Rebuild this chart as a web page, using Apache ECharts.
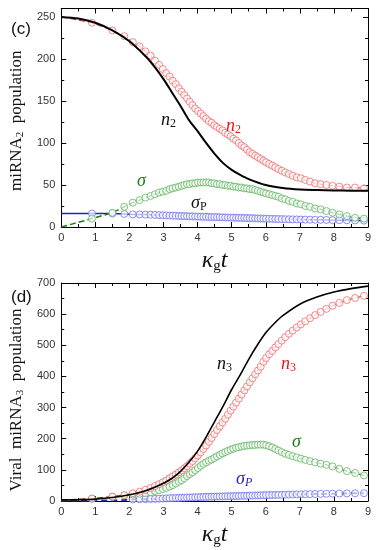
<!DOCTYPE html>
<html><head><meta charset="utf-8">
<script src="https://cdn.jsdelivr.net/npm/echarts@6/dist/echarts.min.js"></script>
<style>html,body{margin:0;padding:0;background:#fff}#c{width:379px;height:550px}</style>
</head><body><div id="c"></div>
<script>
// marker times (shared by all simulation series)
const simT = [0.9,1.5,1.85,2.1,2.3,2.47,2.62,2.75,2.87,2.98,3.08,3.18,3.27,3.36,3.45,3.53,3.61,3.69,3.77,3.85,3.93,4.01,4.09,4.17,4.25,4.33,4.41,4.49,4.57,4.65,4.73,4.81,4.89,4.97,5.05,5.13,5.21,5.29,5.37,5.45,5.53,5.61,5.69,5.77,5.85,5.93,6.01,6.1,6.19,6.28,6.37,6.47,6.57,6.68,6.79,6.91,7.03,7.16,7.3,7.45,7.61,7.78,7.96,8.16,8.38,8.62,8.88];
// panel (c)
const n2Sim = [243,234,227,220,215,209,204,198,193,188,183,179,174,170,165,161,157,153,149,145,141,138,135,132,129,126,124,121,119,117,115,112,110,108,105,103,100,97,95,92,89,87,85,83,81,79,77,75,73,71,69,67,65,63,61,59,58,56,54,52,51,50,49,48,47,47,46];
const sigma2Sim = [10,17,24,29,32,35,37,39,41,42,43,45,46,47,48,49,50,51,51,52,52,53,53,53,53,53,52,52,51,51,50,50,49,49,48,48,47,47,46,46,45,45,44,43,42,41,40,39,38,37,36,34,33,31,30,28,27,25,24,22,21,19,17,15,13,11,10];
const sigmaP2Sim = [16,16,15.5,15,15,14.8,14.6,14.4,14.2,14,13.8,13.6,13.5,13.3,13.2,13,12.9,12.8,12.7,12.6,12.5,12.4,12.3,12.2,12.1,12,11.9,11.8,11.7,11.6,11.5,11.4,11.3,11.2,11.1,11,10.9,10.8,10.7,10.6,10.5,10.4,10.3,10.2,10.1,10,9.9,9.8,9.7,9.6,9.5,9.4,9.3,9.2,9.1,9,8.9,8.8,8.7,8.6,8.5,8.4,8.2,8.1,8,7.8,7.6];
const theoryT2 = [0,0.5,1,1.5,2,2.5,2.75,3,3.25,3.5,3.75,4,4.25,4.5,4.75,5,5.25,5.5,6,6.5,7,7.5,8,8.5,9];
const n2Theory = [250,248,243,234,221,202,190,176,160,144,127,114,100,87,76,68,62,57,50,46.5,44.7,44,43.5,43.2,43];
// panel (d)
const n3Sim = [8,14,19,25,30,36,42,48,54,60,66,73,79,85,92,98,105,112,120,128,137,146,156,167,178,190,202,215,228,240,252,264,277,290,303,316,329,342,355,368,381,394,407,419,431,447,459,471,482,493,504,515,526,537,547,557,567,577,587,597,607,617,627,636,645,652,659];
const sigma3Sim = [7,13,18,21,23,25,28,32,35,38,42,46,51,56,62,67,73,80,86,92,99,106,113,119,124,129,133,138,143,148,153,157,161,165,168,171,173,175,177,178,179,180,180,181,181,181,179,176,172,167,162,157,152,148,144,140,136,132,128,124,120,116,111,103,96,90,82];
const sigmaP3Sim = [null,null,null,5,5.5,6,6.5,7,7.5,8,8.5,9,9.3,9.7,10,10.4,10.7,11,11.3,11.6,12,12.3,12.6,12.9,13.2,13.5,13.8,14,14.3,14.5,14.8,15,15.3,15.5,15.8,16,16.3,16.5,16.8,17,17.3,17.5,17.8,18,18.3,18.5,18.8,19,19.3,19.5,19.8,20,20.3,20.6,20.9,21.2,21.5,21.8,22.1,22.4,22.8,23.2,23.6,24,24.4,24.7,25];
const theoryT3 = [0,0.5,1,1.5,2,2.5,3,3.25,3.5,3.75,4,4.25,4.5,4.75,5,5.25,5.5,5.75,6,6.25,6.5,7,7.5,8,8.5,9];
const n3Theory = [3,4,6,11,20,34,57,73,95,125,160,205,255,305,358,405,455,500,540,570,595,632,655,671,682,690];
// line starting points (t=0) for the dashed connecting curves
const start2 = {n: 250, sigma: 0, sigmaP: 16};
const start3 = {n: 3, sigma: 2, sigmaP: 0.5};
const sigmaP3Early = [[0.9,1],[1.5,2],[1.85,3]];
// axes
const xTicks = {min: 0, max: 9, interval: 1};
const yTop = {min: 0, max: 260, interval: 50};
const yBot = {min: 0, max: 700, interval: 100};

const RED_C = '#ef6b6b', RED_T = '#e31a1a', GREEN_C = '#5fb45f', GREEN_T = '#1c7c1c', BLUE_C = '#6e6ef0', BLUE_T = '#2424b8';
const pairs = (xs, ys) => xs.map((x, i) => [x, ys[i]]).filter(p => p[1] !== null);

const chart = echarts.init(document.getElementById('c'));
const grids = [
  {left: 52, right: 11, top: 8.5, height: 218.5},
  {left: 52, right: 11, top: 283, height: 218}
];
function xAxes(g) {
  const base = {gridIndex: g, type: 'value', min: xTicks.min, max: xTicks.max, interval: xTicks.interval,
    axisLine: {show: true, onZero: false, lineStyle: {color: '#000', width: 1}},
    axisTick: {show: true, inside: true, length: 5, lineStyle: {color: '#000'}},
    minorTick: {show: true, splitNumber: 2, length: 3, lineStyle: {color: '#000'}},
    splitLine: {show: false}};
  return [
    Object.assign({}, base, {position: 'bottom',
      axisLabel: {fontFamily: 'Liberation Sans', fontSize: 11, color: '#333', margin: 5},
      name: '{k|κ}{s|g}{t|t}', nameLocation: 'middle', nameGap: 20,
      nameTextStyle: {rich: {
        k: {fontFamily: 'Liberation Serif', fontStyle: 'italic', fontSize: 24, color: '#111'},
        s: {fontFamily: 'Liberation Serif', fontSize: 15, color: '#111', verticalAlign: 'bottom', padding: [12, 0, 0, 0]},
        t: {fontFamily: 'Liberation Serif', fontStyle: 'italic', fontSize: 24, color: '#111'}}}}),
    Object.assign({}, base, {position: 'top', axisLabel: {show: false}})
  ];
}
function yAxes(g, r, nameRich, shift) {
  const base = {gridIndex: g, type: 'value', min: r.min, max: r.max, interval: r.interval,
    axisLine: {show: true, onZero: false, lineStyle: {color: '#000', width: 1}},
    axisTick: {show: true, inside: true, length: 5, lineStyle: {color: '#000'}},
    minorTick: {show: true, splitNumber: 2, length: 3, lineStyle: {color: '#000'}},
    splitLine: {show: false}};
  return [
    Object.assign({}, base, {position: 'left',
      axisLabel: {fontFamily: 'Liberation Sans', fontSize: 11, color: '#333', margin: 6, showMaxLabel: r.max % r.interval === 0},
      name: nameRich, nameLocation: 'middle', nameGap: 30,
      nameTextStyle: {padding: [0, shift, 0, 0], rich: {
        a: {fontFamily: 'Liberation Serif', fontSize: 17, color: '#111'},
        s: {fontFamily: 'Liberation Serif', fontSize: 11, color: '#111', padding: [0, 0, -8, 0]}}}}),
    Object.assign({}, base, {position: 'right', axisLabel: {show: false}})
  ];
}
function scatter(xi, yi, data, color, z) {
  return {type: 'scatter', xAxisIndex: xi, yAxisIndex: yi, data: data, symbol: 'circle', symbolSize: 7,
    itemStyle: {color: 'rgba(255,255,255,0.85)', borderColor: color, borderWidth: 1}, z: z, silent: true, animation: false};
}
function line(xi, yi, data, color, width, type, z, smooth) {
  return {type: 'line', xAxisIndex: xi, yAxisIndex: yi, data: data, showSymbol: false, symbol: 'none', smooth: smooth || false,
    lineStyle: {color: color, width: width, type: type}, z: z, silent: true, animation: false};
}

const series = [
  // panel (c)
  line(0, 0, [[0, start2.sigmaP]].concat(pairs(simT, sigmaP2Sim)), BLUE_T, 1.5, 'solid', 2),
  line(0, 0, [[0, start2.sigma]].concat(pairs(simT, sigma2Sim)), GREEN_T, 1.5, [6, 3], 2),
  line(0, 0, [[0, start2.n]].concat(pairs(simT, n2Sim)), RED_T, 1, [6, 3], 2),
  scatter(0, 0, pairs(simT, sigmaP2Sim), BLUE_C, 3),
  scatter(0, 0, pairs(simT, sigma2Sim), GREEN_C, 3),
  scatter(0, 0, pairs(simT, n2Sim), RED_C, 3),
  line(0, 0, pairs(theoryT2, n2Theory), '#000', 2, 'solid', 5, 0.3),
  // panel (d)
  line(2, 2, [[0, start3.sigmaP]].concat(sigmaP3Early, pairs(simT, sigmaP3Sim)), BLUE_T, 2, [6, 4], 2),
  line(2, 2, [[0, start3.sigma]].concat(pairs(simT, sigma3Sim)), GREEN_T, 1.5, [6, 3], 2),
  line(2, 2, [[0, start3.n]].concat(pairs(simT, n3Sim)), RED_T, 1, [6, 3], 2),
  scatter(2, 2, pairs(simT, sigmaP3Sim), BLUE_C, 3),
  scatter(2, 2, pairs(simT, sigma3Sim), GREEN_C, 3),
  scatter(2, 2, pairs(simT, n3Sim), RED_C, 3),
  line(2, 2, pairs(theoryT3, n3Theory), '#000', 1.6, 'solid', 5, 0.3)
];

const serifIt = {fontFamily: 'Liberation Serif', fontStyle: 'italic', fontSize: 18};
function lbl(x, y, rich, color, subItalic) {
  return {type: 'text', left: x, top: y, z: 100, style: {text: rich, rich: {
    m: Object.assign({}, serifIt, {fill: color}),
    s: {fontFamily: 'Liberation Serif', fontStyle: subItalic ? 'italic' : 'normal', fontSize: 12, fill: color, padding: [7, 0, 0, 0]}}}};
}

chart.setOption({
  animation: false,
  grid: grids,
  xAxis: xAxes(0).concat(xAxes(1)),
  yAxis: yAxes(0, yTop, '{a|miRNA}{s|2}{a|  population}', 6).concat(yAxes(1, yBot, '{a|Viral  miRNA}{s|3}{a|  population}', 16)),
  series: series,
  graphic: [
    {type: 'text', left: 11, top: 21, style: {text: '(c)', fontFamily: 'Liberation Sans', fontSize: 17, fill: '#111'}},
    {type: 'text', left: 11, top: 289, style: {text: '(d)', fontFamily: 'Liberation Sans', fontSize: 17, fill: '#111'}},
    lbl(161, 111, '{m|n}{s|2}', '#111'),
    lbl(226, 117, '{m|n}{s|2}', RED_T),
    lbl(137, 172, '{m|σ}', GREEN_T),
    lbl(191, 194, '{m|σ}{s|P}', '#111'),
    lbl(217, 355, '{m|n}{s|3}', '#111'),
    lbl(281, 355, '{m|n}{s|3}', RED_T),
    lbl(292, 433, '{m|σ}', GREEN_T),
    lbl(236, 470, '{m|σ}{s|P}', BLUE_T, true)
  ]
});
</script></body></html>
